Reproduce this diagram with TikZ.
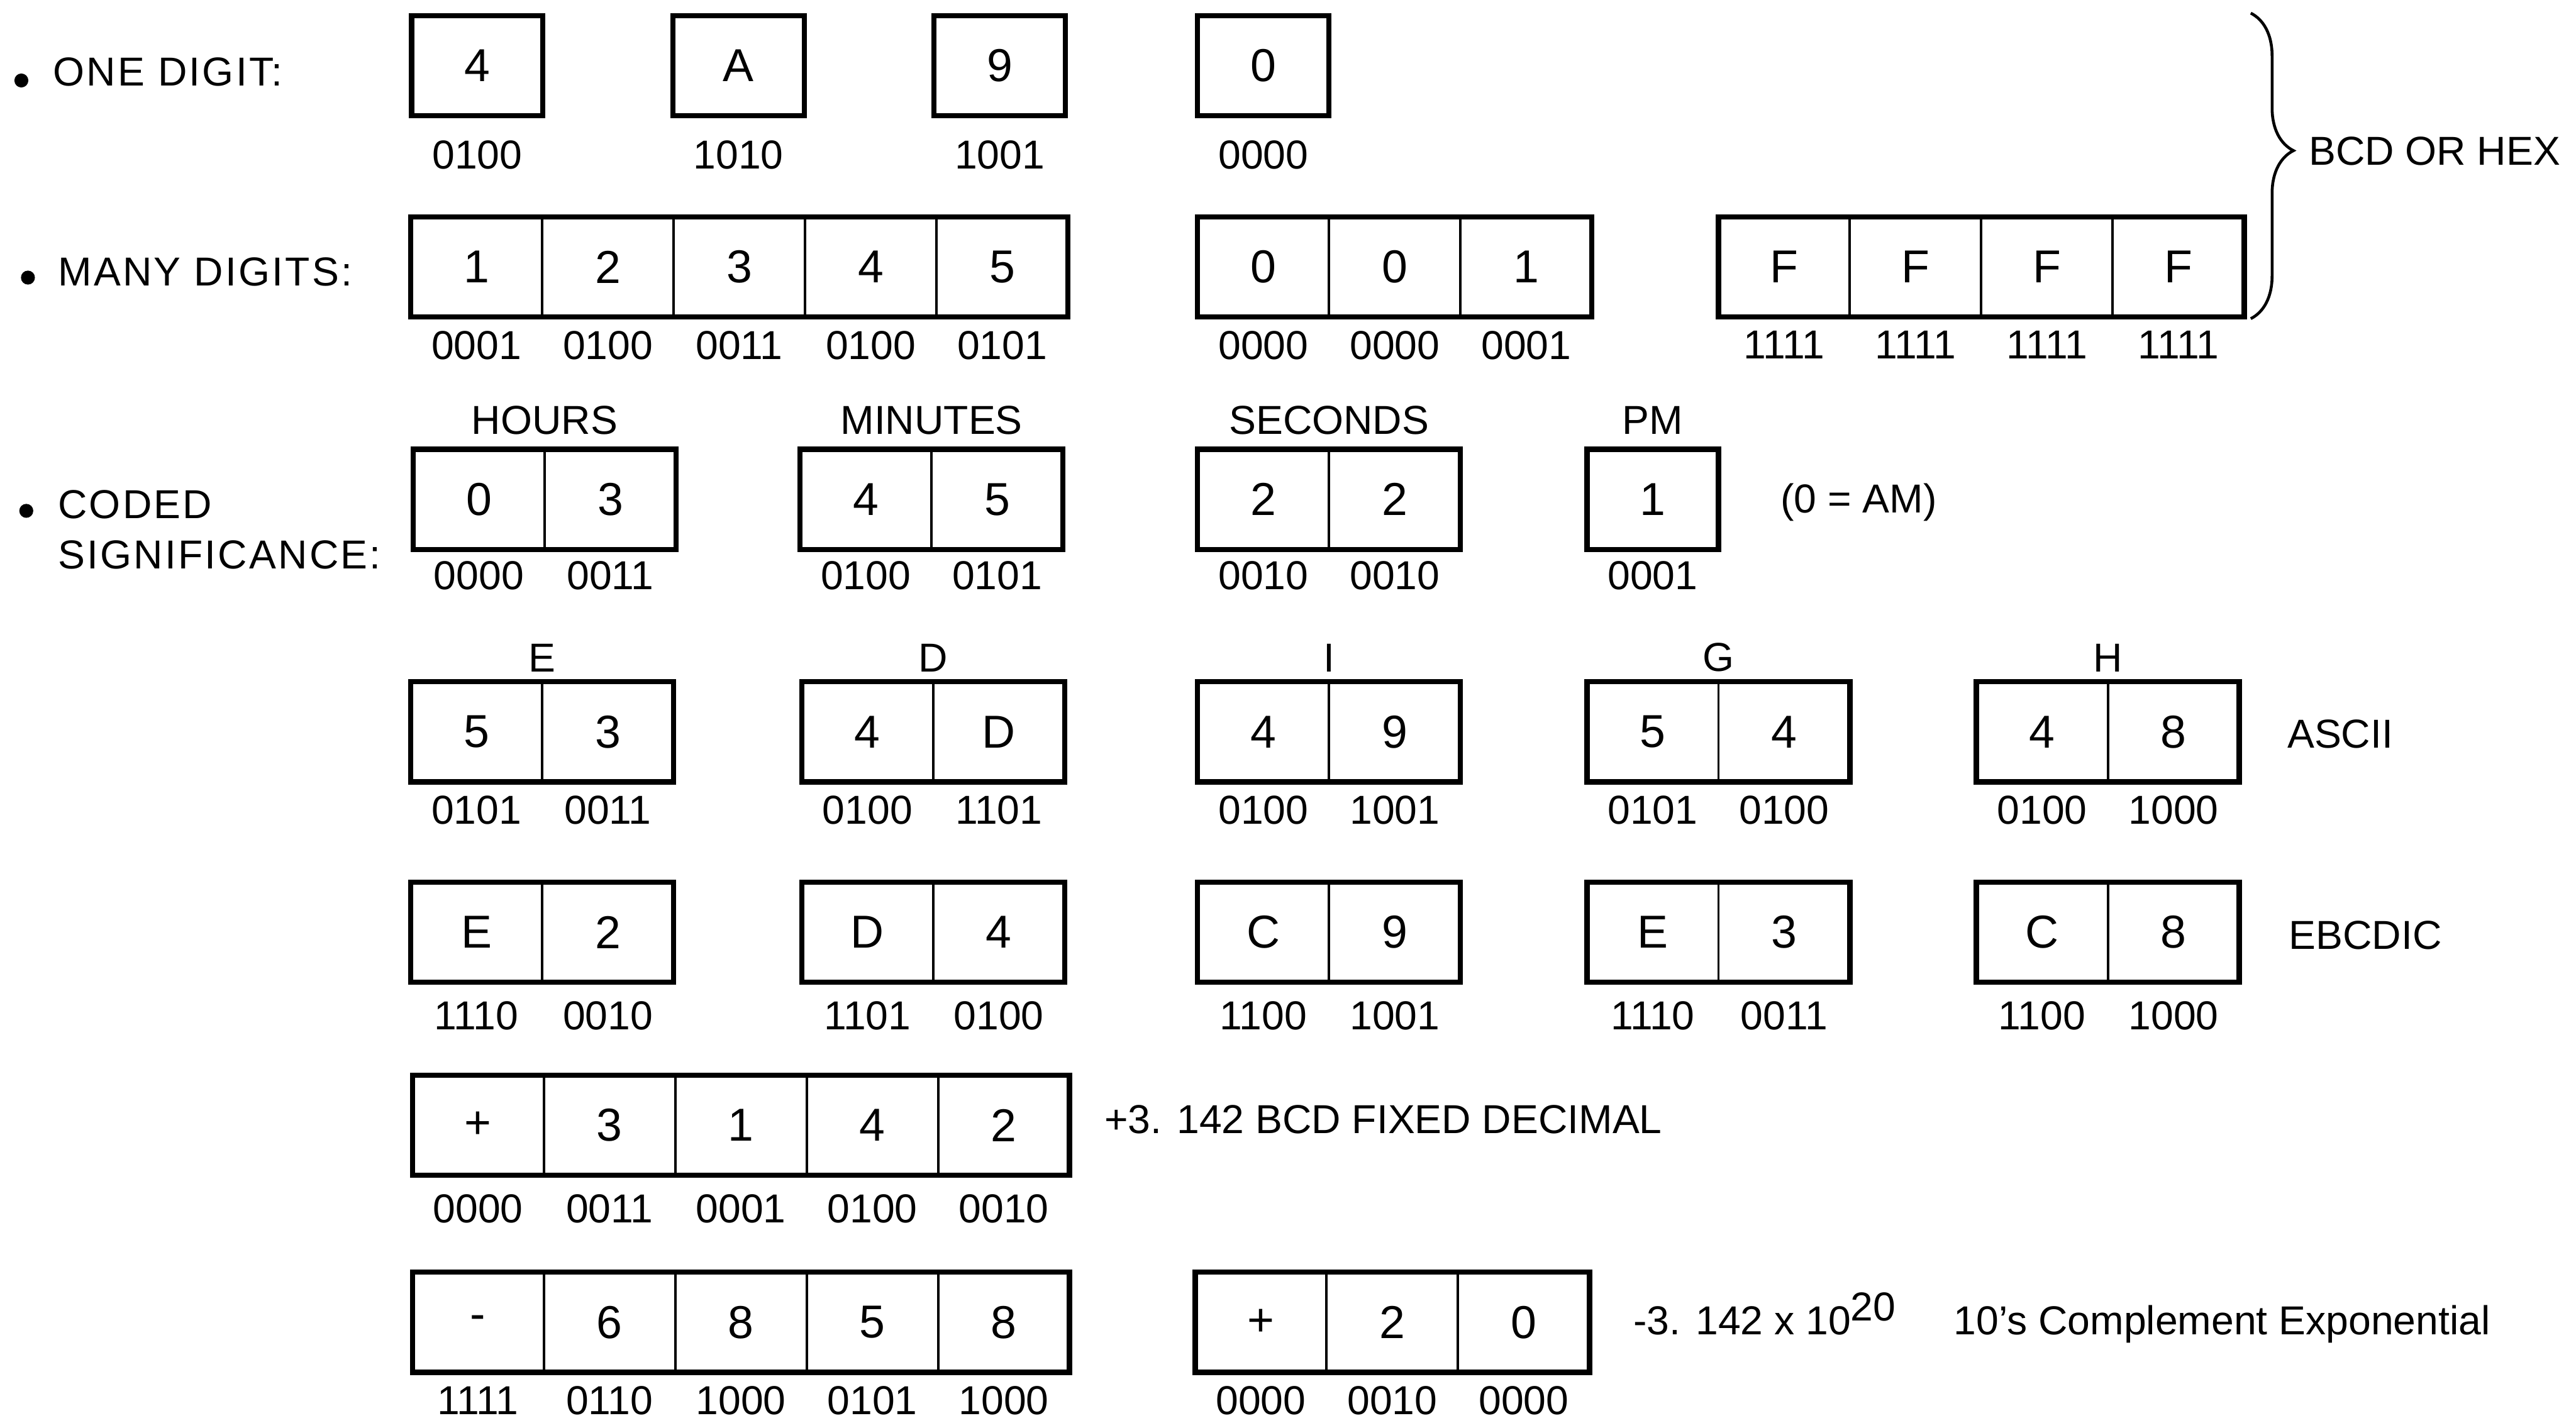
\documentclass[tikz,border=0pt]{standalone}
\usepackage{fontspec}
\setmainfont{Liberation Sans}
\usetikzlibrary{positioning,decorations.pathreplacing}

\begin{document}
\begin{tikzpicture}[node distance=1.3mm,
  cell/.style={draw,line width=0.85pt,minimum width=1.6cm,minimum height=1.22cm,inner sep=0pt,outer sep=0pt,font=\fontsize{16}{19}\selectfont},
  code/.style={inner sep=1pt,font=\fontsize{14}{17}\selectfont},
  tag/.style={inner sep=0pt,anchor=west,font=\fontsize{14}{17}\selectfont},
  head/.style={tag,align=left,font=\fontsize{14}{17.3}\selectfont\addfontfeature{LetterSpace=5}},
  frame/.style={line width=1.8pt},
  dot/.style={circle,fill,inner sep=0pt,minimum size=0.17cm}]
\useasboundingbox (0,0) rectangle (31.36,-17.38);

% headings on the left
\node[dot] (dot1) at (0.26,-0.98) {};
\node[head] (onelab) at (0.64,-0.875) {ONE DIGIT:};
\node[dot] (dot2) at (0.34,-3.38) {};
\node[head] (manylab) at (0.70,-3.31) {MANY DIGITS:};
\node[dot] (dot3) at (0.32,-6.22) {};
\node[head] (codedlab) at (0.70,-6.45) {CODED\\SIGNIFICANCE:};

% one digit
\node[cell] (dig1) at (5.81,-0.80) {4};
\node[code,below=2.6mm of dig1] (dig1b) {0100};
\node[cell] (dig2) at (8.99,-0.80) {A};
\node[code,below=2.6mm of dig2] (dig2b) {1010};
\node[cell] (dig3) at (12.17,-0.80) {9};
\node[code,below=2.6mm of dig3] (dig3b) {1001};
\node[cell] (dig4) at (15.38,-0.80) {0};
\node[code,below=2.6mm of dig4] (dig4b) {0000};

% many digits
\node[cell] (mda1) at (5.80,-3.25) {1};
\node[code,below=of mda1] (mda1b) {0001};
\node[cell,right=0pt of mda1] (mda2) {2};
\node[code,below=of mda2] (mda2b) {0100};
\node[cell,right=0pt of mda2] (mda3) {3};
\node[code,below=of mda3] (mda3b) {0011};
\node[cell,right=0pt of mda3] (mda4) {4};
\node[code,below=of mda4] (mda4b) {0100};
\node[cell,right=0pt of mda4] (mda5) {5};
\node[code,below=of mda5] (mda5b) {0101};

\node[cell] (mdb1) at (15.38,-3.25) {0};
\node[code,below=of mdb1] (mdb1b) {0000};
\node[cell,right=0pt of mdb1] (mdb2) {0};
\node[code,below=of mdb2] (mdb2b) {0000};
\node[cell,right=0pt of mdb2] (mdb3) {1};
\node[code,below=of mdb3] (mdb3b) {0001};

\node[cell] (mdc1) at (21.72,-3.25) {F};
\node[code,below=of mdc1] (mdc1b) {1111};
\node[cell,right=0pt of mdc1] (mdc2) {F};
\node[code,below=of mdc2] (mdc2b) {1111};
\node[cell,right=0pt of mdc2] (mdc3) {F};
\node[code,below=of mdc3] (mdc3b) {1111};
\node[cell,right=0pt of mdc3] (mdc4) {F};
\node[code,below=of mdc4] (mdc4b) {1111};

\coordinate (braceT) at (27.40,-0.16);
\coordinate (braceB) at (27.40,-3.88);
\draw[decorate,decoration={brace,amplitude=0.52cm,aspect=0.45},line width=1pt] (braceT) -- (braceB);
\node[tag] (bcdlab) at (28.10,-1.84) {BCD OR HEX};

% coded significance: clock
\node[cell] (hr1) at (5.83,-6.08) {0};
\node[code,below=1mm of hr1] (hr1b) {0000};
\node[cell,right=0pt of hr1] (hr2) {3};
\node[code,below=1mm of hr2] (hr2b) {0011};
\node[code,above=1.4mm of hr1.north east] (hrlab) {HOURS};

\node[cell] (mn1) at (10.54,-6.08) {4};
\node[code,below=1mm of mn1] (mn1b) {0100};
\node[cell,right=0pt of mn1] (mn2) {5};
\node[code,below=1mm of mn2] (mn2b) {0101};
\node[code,above=1.4mm of mn1.north east] (mnlab) {MINUTES};

\node[cell] (sc1) at (15.38,-6.08) {2};
\node[code,below=1mm of sc1] (sc1b) {0010};
\node[cell,right=0pt of sc1] (sc2) {2};
\node[code,below=1mm of sc2] (sc2b) {0010};
\node[code,above=1.4mm of sc1.north east] (sclab) {SECONDS};

\node[cell] (pm1) at (20.12,-6.08) {1};
\node[code,below=1mm of pm1] (pm1b) {0001};
\node[code,above=1.4mm of pm1] (pmlab) {PM};
\node[tag,anchor=base west] (amlab) at (21.67,-6.24) {(0 = AM)};

% ASCII
\node[cell] (ae1) at (5.80,-8.91) {5};
\node[code,below=of ae1] (ae1b) {0101};
\node[cell,right=0pt of ae1] (ae2) {3};
\node[code,below=of ae2] (ae2b) {0011};
\node[code,above=0.8mm of ae1.north east] (aelab) {E};

\node[cell] (ad1) at (10.56,-8.91) {4};
\node[code,below=of ad1] (ad1b) {0100};
\node[cell,right=0pt of ad1] (ad2) {D};
\node[code,below=of ad2] (ad2b) {1101};
\node[code,above=0.8mm of ad1.north east] (adlab) {D};

\node[cell] (ai1) at (15.38,-8.91) {4};
\node[code,below=of ai1] (ai1b) {0100};
\node[cell,right=0pt of ai1] (ai2) {9};
\node[code,below=of ai2] (ai2b) {1001};
\node[code,above=0.8mm of ai1.north east] (ailab) {I};

\node[cell] (ag1) at (20.12,-8.91) {5};
\node[code,below=of ag1] (ag1b) {0101};
\node[cell,right=0pt of ag1] (ag2) {4};
\node[code,below=of ag2] (ag2b) {0100};
\node[code,above=0.8mm of ag1.north east] (aglab) {G};

\node[cell] (ah1) at (24.86,-8.91) {4};
\node[code,below=of ah1] (ah1b) {0100};
\node[cell,right=0pt of ah1] (ah2) {8};
\node[code,below=of ah2] (ah2b) {1000};
\node[code,above=0.8mm of ah1.north east] (ahlab) {H};
\node[tag] (asclab) at (27.84,-8.94) {ASCII};

% EBCDIC
\node[cell] (ee1) at (5.80,-11.35) {E};
\node[code,below=1.9mm of ee1] (ee1b) {1110};
\node[cell,right=0pt of ee1] (ee2) {2};
\node[code,below=1.9mm of ee2] (ee2b) {0010};

\node[cell] (ed1) at (10.56,-11.35) {D};
\node[code,below=1.9mm of ed1] (ed1b) {1101};
\node[cell,right=0pt of ed1] (ed2) {4};
\node[code,below=1.9mm of ed2] (ed2b) {0100};

\node[cell] (ei1) at (15.38,-11.35) {C};
\node[code,below=1.9mm of ei1] (ei1b) {1100};
\node[cell,right=0pt of ei1] (ei2) {9};
\node[code,below=1.9mm of ei2] (ei2b) {1001};

\node[cell] (eg1) at (20.12,-11.35) {E};
\node[code,below=1.9mm of eg1] (eg1b) {1110};
\node[cell,right=0pt of eg1] (eg2) {3};
\node[code,below=1.9mm of eg2] (eg2b) {0011};

\node[cell] (eh1) at (24.86,-11.35) {C};
\node[code,below=1.9mm of eh1] (eh1b) {1100};
\node[cell,right=0pt of eh1] (eh2) {8};
\node[code,below=1.9mm of eh2] (eh2b) {1000};
\node[tag] (ebclab) at (27.86,-11.39) {EBCDIC};

% fixed decimal
\node[cell] (fx1) at (5.82,-13.70) {+};
\node[code,below=1.9mm of fx1] (fx1b) {0000};
\node[cell,right=0pt of fx1] (fx2) {3};
\node[code,below=1.9mm of fx2] (fx2b) {0011};
\node[cell,right=0pt of fx2] (fx3) {1};
\node[code,below=1.9mm of fx3] (fx3b) {0001};
\node[cell,right=0pt of fx3] (fx4) {4};
\node[code,below=1.9mm of fx4] (fx4b) {0100};
\node[cell,right=0pt of fx4] (fx5) {2};
\node[code,below=1.9mm of fx5] (fx5b) {0010};
\node[tag] (fixlab) at (13.44,-13.63) {+3. 142 BCD FIXED DECIMAL};

% exponential
\node[cell] (mt1) at (5.82,-16.10) {-};
\node[code,below=of mt1] (mt1b) {1111};
\node[cell,right=0pt of mt1] (mt2) {6};
\node[code,below=of mt2] (mt2b) {0110};
\node[cell,right=0pt of mt2] (mt3) {8};
\node[code,below=of mt3] (mt3b) {1000};
\node[cell,right=0pt of mt3] (mt4) {5};
\node[code,below=of mt4] (mt4b) {0101};
\node[cell,right=0pt of mt4] (mt5) {8};
\node[code,below=of mt5] (mt5b) {1000};

\node[cell] (ex1) at (15.35,-16.10) {+};
\node[code,below=of ex1] (ex1b) {0000};
\node[cell,right=0pt of ex1] (ex2) {2};
\node[code,below=of ex2] (ex2b) {0010};
\node[cell,right=0pt of ex2] (ex3) {0};
\node[code,below=of ex3] (ex3b) {0000};
\node[tag,anchor=base west] (explab) at (19.88,-16.25) {-3. 142 x 10\raisebox{4.8pt}{20}};
\node[tag,anchor=base west] (cmplab) at (23.78,-16.25) {10's Complement Exponential};

% heavy outline round each group of cells
\foreach \a/\b in {dig1/dig1,dig2/dig2,dig3/dig3,dig4/dig4,mda1/mda5,mdb1/mdb3,mdc1/mdc4,
  hr1/hr2,mn1/mn2,sc1/sc2,pm1/pm1,ae1/ae2,ad1/ad2,ai1/ai2,ag1/ag2,ah1/ah2,
  ee1/ee2,ed1/ed2,ei1/ei2,eg1/eg2,eh1/eh2,fx1/fx5,mt1/mt5,ex1/ex3}
  \draw[frame] (\a.south west) rectangle (\b.north east);
\end{tikzpicture}
\end{document}
